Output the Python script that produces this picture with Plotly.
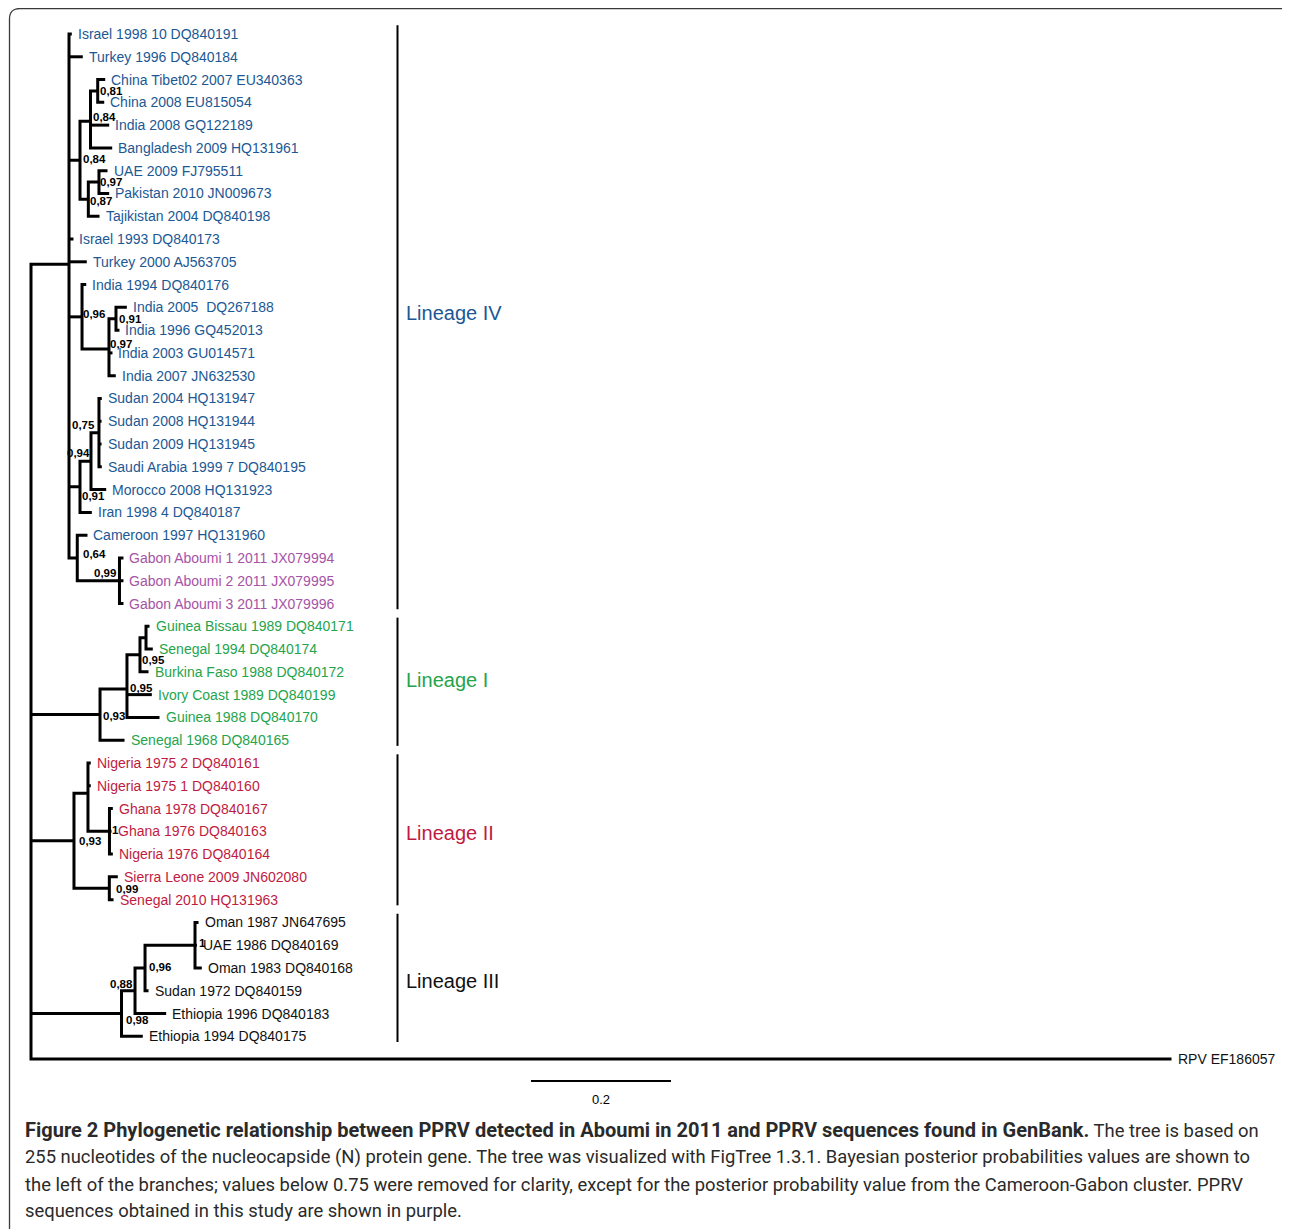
import plotly.graph_objects as go

# ---------------- data ----------------
leaf_labels = [
    "Israel 1998 10 DQ840191", "Turkey 1996 DQ840184", "China Tibet02 2007 EU340363",
    "China 2008 EU815054", "India 2008 GQ122189", "Bangladesh 2009 HQ131961",
    "UAE 2009 FJ795511", "Pakistan 2010 JN009673", "Tajikistan 2004 DQ840198",
    "Israel 1993 DQ840173", "Turkey 2000 AJ563705", "India 1994 DQ840176",
    "India 2005  DQ267188", "India 1996 GQ452013", "India 2003 GU014571",
    "India 2007 JN632530", "Sudan 2004 HQ131947", "Sudan 2008 HQ131944",
    "Sudan 2009 HQ131945", "Saudi Arabia 1999 7 DQ840195", "Morocco 2008 HQ131923",
    "Iran 1998 4 DQ840187", "Cameroon 1997 HQ131960", "Gabon Aboumi 1 2011 JX079994",
    "Gabon Aboumi 2 2011 JX079995", "Gabon Aboumi 3 2011 JX079996",
    "Guinea Bissau 1989 DQ840171", "Senegal 1994 DQ840174", "Burkina Faso 1988 DQ840172",
    "Ivory Coast 1989 DQ840199", "Guinea 1988 DQ840170", "Senegal 1968 DQ840165",
    "Nigeria 1975 2 DQ840161", "Nigeria 1975 1 DQ840160", "Ghana 1978 DQ840167",
    "Ghana 1976 DQ840163", "Nigeria 1976 DQ840164", "Sierra Leone 2009 JN602080",
    "Senegal 2010 HQ131963", "Oman 1987 JN647695", "UAE 1986 DQ840169",
    "Oman 1983 DQ840168", "Sudan 1972 DQ840159", "Ethiopia 1996 DQ840183",
    "Ethiopia 1994 DQ840175", "RPV EF186057",
]
leaf_depth = [
    0.0583, 0.0740, 0.1060, 0.1046, 0.1117, 0.1160, 0.1093, 0.1117, 0.0979,
    0.0607, 0.0797, 0.0789, 0.1369, 0.1264, 0.1164, 0.1211, 0.1011, 0.1008,
    0.1008, 0.1011, 0.1074, 0.0869, 0.0807, 0.1321, 0.1321, 0.1321,
    0.1693, 0.1740, 0.1679, 0.1726, 0.1836, 0.1336,
    0.0854, 0.0854, 0.1169, 0.1150, 0.1169, 0.1240, 0.1179,
    0.2393, 0.2370, 0.2440, 0.1679, 0.1931, 0.1597, 1.6293,
]
leaf_parent = [
    "IV", "IV", "CP", "CP", "IC", "IC", "UP", "UP", "UC",
    "IV", "IV", "IN", "INP", "INP", "INS", "INS", "S75", "S75",
    "S75", "S75", "S94", "SD", "CG", "GB", "GB", "GB",
    "I3", "I3", "I2", "I1", "I1", "I",
    "II1", "II1", "GH", "GH", "GH", "SL", "SL",
    "OM", "OM", "OM", "III2", "III1", "III", "root",
]
leaf_group = (["IV"] * 23 + ["Gabon"] * 3 + ["I"] * 6 + ["II"] * 7
              + ["III"] * 6 + ["out"])

node_names = ["root", "IV", "CU", "IC", "CP", "UC", "UP", "IN", "INS", "INP",
              "SD", "S94", "S75", "CG", "GB", "I", "I1", "I2", "I3",
              "II", "II1", "GH", "SL", "III", "III1", "III2", "OM"]
node_parent = [None, "root", "IV", "CU", "IC", "CU", "UC", "IV", "IN", "INS",
               "IV", "SD", "S94", "IV", "CG", "root", "I", "I1", "I2",
               "root", "II", "II1", "II", "root", "III", "III1", "III2"]
node_depth = [0.0, 0.0543, 0.0700, 0.0850, 0.0953, 0.0819, 0.0971, 0.0729, 0.1114, 0.1214,
              0.0700, 0.0857, 0.0971, 0.0661, 0.1264, 0.0986, 0.1371, 0.1557, 0.1643,
              0.0614, 0.0814, 0.1121, 0.1119, 0.1293, 0.1486, 0.1629, 0.2343]
node_support = ["", "", "0,84", "0,84", "0,81", "0,87", "0,97", "0,96", "0,97", "0,91",
                "0,91", "0,94", "0,75", "0,64", "0,99", "0,93", "0,95", "0,95", "",
                "0,93", "", "1", "0,99", "0,98", "0,88", "0,96", "1"]

lineage_names = ["Lineage IV", "Lineage I", "Lineage II", "Lineage III"]
lineage_first_leaf = [0, 26, 32, 39]
lineage_last_leaf = [25, 31, 38, 44]

scale_bar_length = 0.2
scale_bar_label = "0.2"

caption_bold = "Figure 2 Phylogenetic relationship between PPRV detected in Aboumi in 2011 and PPRV sequences found in GenBank."
caption_lines = [
    " The tree is based on",
    "255 nucleotides of the nucleocapside (N) protein gene. The tree was visualized with FigTree 1.3.1. Bayesian posterior probabilities values are shown to",
    "the left of the branches; values below 0.75 were removed for clarity, except for the posterior probability value from the Cameroon-Gabon cluster. PPRV",
    "sequences obtained in this study are shown in purple.",
]

# ---------------- styles ----------------
OFF = 8                  # page body margin of the browser
W, H = 1290 - OFF, 1229 - OFF
PX_PER_UNIT = 700.0      # horizontal scale (pixels per substitution unit)
ROOT_PX = 31.0 - OFF     # pixel position of the root
ROW_PX = 22.78           # pixel spacing between tips
FIRST_ROW_PX = 34.0 - OFF

group_color = {"IV": "#1c5894", "Gabon": "#a653a6", "I": "#25a44c",
               "II": "#bf1b3f", "III": "#111111", "out": "#111111"}
lineage_color = ["#1c5894", "#25a44c", "#bf1b3f", "#111111"]
lineage_label_dy = [-1.5, 0.5, 5.5, 5.5]   # px, down positive

# support label offsets (px): anchor side, dx, dy(down positive)
support_anchor = ["left", "left", "left", "left", "left", "left", "left", "left", "left", "left",
                  "left", "right", "right", "left", "right", "left", "left", "left", "left",
                  "left", "left", "left", "left", "left", "right", "left", "left"]
support_dx = [0, 0, 0.5, 0.5, 0.5, 0, -0.5, -1, -1, 1,
              0, 1.5, -2, 3.5, -1, 1, 1.5, 0, 0,
              3.5, 0, 1, 4.5, 2, 0, 1.5, 2]
support_dy = [0, 0, -1, -4.5, 0, 2, 0, -3, -5, 0,
              9.5, -8, -8, -3.5, -7.7, 1.5, -1, 5.5, 0,
              0, 0, -1, 0.5, 6.5, -6.5, -1, -2]

FONT = "Liberation Sans, Arial, Helvetica, sans-serif"
CAP_FONT = "Roboto, Open Sans, sans-serif"

# ---------------- layout computation ----------------
n_leaves = len(leaf_labels)
children = {n: [] for n in node_names}
for i, p in enumerate(leaf_parent):
    children[p].append(("leaf", i))
for n, p in zip(node_names, node_parent):
    if p is not None:
        children[p].append(("node", n))

ndepth = dict(zip(node_names, node_depth))
ny = {}


def node_y(n):
    if n in ny:
        return ny[n]
    ys = []
    for kind, c in children[n]:
        ys.append(float(c) if kind == "leaf" else node_y(c))
    ny[n] = sum(ys) / len(ys)
    return ny[n]


for n in node_names:
    node_y(n)

xs, ys = [], []
for n in node_names:
    x0 = ndepth[n]
    ch = []
    for kind, c in children[n]:
        if kind == "leaf":
            ch.append((float(c), leaf_depth[c]))
        else:
            ch.append((ny[c], ndepth[c]))
    ch.sort()
    (yt, xt), (yb, xb) = ch[0], ch[-1]
    xs += [xt, x0, x0, xb, None]
    ys += [yt, yt, yb, yb, None]
    for yc, xc in ch[1:-1]:
        xs += [x0, xc, None]
        ys += [yc, yc, None]

fig = go.Figure()
fig.add_trace(go.Scatter(x=xs, y=ys, mode="lines",
                         line=dict(color="black", width=3),
                         hoverinfo="skip", showlegend=False))

annotations = []
for i, lab in enumerate(leaf_labels):
    annotations.append(dict(x=leaf_depth[i], y=i, xref="x", yref="y", text=lab,
                            showarrow=False, xanchor="left", yanchor="middle",
                            xshift=4.0, font=dict(family=FONT, size=14,
                                                  color=group_color[leaf_group[i]])))

for k, n in enumerate(node_names):
    s = node_support[k]
    if not s:
        continue
    annotations.append(dict(x=ndepth[n], y=ny[n], xref="x", yref="y", text="<b>%s</b>" % s,
                            showarrow=False, xanchor=support_anchor[k], yanchor="middle",
                            xshift=support_dx[k], yshift=-support_dy[k],
                            font=dict(family=FONT, size=11.5, color="black")))

# lineage bars
bar_x = (397.5 - OFF - ROOT_PX) / PX_PER_UNIT
shapes = []
for k, name in enumerate(lineage_names):
    y0 = lineage_first_leaf[k] - 0.38
    y1 = lineage_last_leaf[k] + 0.25
    shapes.append(dict(type="line", xref="x", yref="y", x0=bar_x, x1=bar_x, y0=y0, y1=y1,
                       line=dict(color="black", width=2)))
    annotations.append(dict(x=bar_x, y=(y0 + y1) / 2 - 0.12, xref="x", yref="y", text=name,
                            showarrow=False, xanchor="left", yanchor="middle", xshift=6,
                            yshift=-lineage_label_dy[k],
                            font=dict(family=FONT, size=20, color=lineage_color[k])))

# scale bar
sb_x0 = (531 - OFF - ROOT_PX) / PX_PER_UNIT
sb_y = n_leaves - 1 + 0.96
shapes.append(dict(type="line", xref="x", yref="y", x0=sb_x0, x1=sb_x0 + scale_bar_length,
                   y0=sb_y, y1=sb_y, line=dict(color="black", width=2)))
annotations.append(dict(x=sb_x0 + scale_bar_length / 2, y=sb_y + 0.83, xref="x", yref="y",
                        text=scale_bar_label, showarrow=False, xanchor="center", yanchor="middle",
                        font=dict(family=FONT, size=13, color="black")))


# frame (rounded border), reference pixel coordinates
def P(px, py):
    return "%.5f,%.5f" % ((px - OFF) / W, 1 - (py - OFF) / H)


frame_path = ("M " + P(9.5, 1240) + " L " + P(9.5, 19) + " Q " + P(9.5, 8.5) + " " + P(20, 8.5)
              + " L " + P(1280, 8.5) + " Q " + P(1288, 8.5) + " " + P(1292, 14))
shapes.append(dict(type="path", xref="paper", yref="paper", path=frame_path,
                   line=dict(color="#3a3a3a", width=1.3)))

# caption
cap_y = [1130, 1157, 1184, 1210]
for k, (line, py) in enumerate(zip(caption_lines, cap_y)):
    txt = line
    if k == 0:
        txt = "<span style='font-size:20px'><b>%s</b></span>%s" % (caption_bold, line)
    annotations.append(dict(x=(23 - OFF) / W, y=1 - (py - OFF) / H, xref="paper", yref="paper",
                            text=txt, showarrow=False, xanchor="left", yanchor="middle",
                            font=dict(family=CAP_FONT, size=18.4, color="#2a2a2a")))

x_range = [(0 - ROOT_PX) / PX_PER_UNIT, (W - ROOT_PX) / PX_PER_UNIT]
y_range = [(H - FIRST_ROW_PX) / ROW_PX, (0 - FIRST_ROW_PX) / ROW_PX]

fig.update_layout(
    width=W, height=H, margin=dict(l=0, r=0, t=0, b=0),
    paper_bgcolor="white", plot_bgcolor="white",
    xaxis=dict(range=x_range, visible=False, fixedrange=True),
    yaxis=dict(range=y_range, visible=False, fixedrange=True),
    shapes=shapes, annotations=annotations, showlegend=False,
)

fig.write_html("out.html")
